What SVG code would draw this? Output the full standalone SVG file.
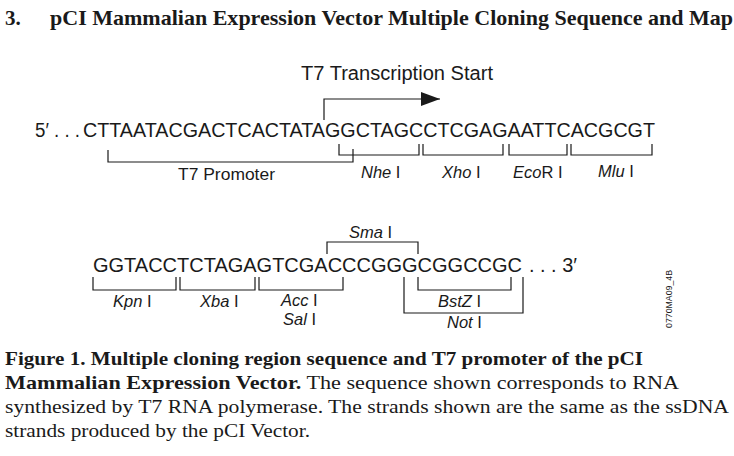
<svg xmlns="http://www.w3.org/2000/svg" width="734" height="456" viewBox="0 0 734 456">
<style>
.ser{font-family:"Liberation Serif","Times New Roman",serif;fill:#1a1a1a}
.b{font-weight:bold}
.title{font-size:21px}
.cap{font-size:19.5px}
.seq{font-family:"Liberation Sans",Arial,sans-serif;font-size:19.5px;fill:#1a1a1a}
.lbl{font-family:"Liberation Sans",Arial,sans-serif;font-size:16.5px;fill:#1a1a1a}
.it{font-style:italic}
.code{font-family:"Liberation Sans",Arial,sans-serif;font-size:9px;fill:#1a1a1a}
.br{fill:none;stroke:#1a1a1a;stroke-width:1.2}
</style>
<defs>
<marker id="ah" markerWidth="20" markerHeight="14" refX="19" refY="7" orient="auto" markerUnits="userSpaceOnUse">
<path d="M0,0 L19,7 L0,14 Z" fill="#1a1a1a"/>
</marker>
</defs>
<rect width="734" height="456" fill="#fff"/>
<g id="title">
<text class="ser b title" x="5" y="25">3.</text>
<text class="ser b title" x="50" y="25" textLength="683" lengthAdjust="spacingAndGlyphs">pCI Mammalian Expression Vector Multiple Cloning Sequence and Map</text>
</g>
<g id="connectors">
<path class="br" d="M324,120 V99 H440" marker-end="url(#ah)"/>
<path class="br" d="M108,150 V162 H353 V149"/>
<path class="br" d="M339,144 V155 H419 V144"/>
<path class="br" d="M423,144 V155 H503 V144"/>
<path class="br" d="M509,144 V155 H567 V144"/>
<path class="br" d="M571,144 V155 H652 V144"/>
<path class="br" d="M93,277 V290 H176 V277"/>
<path class="br" d="M180,277 V290 H255 V277"/>
<path class="br" d="M259,277 V290 H343 V277"/>
<path class="br" d="M327,254 V242 H418 V254"/>
<path class="br" d="M418,277 V290 H511 V277"/>
<path class="br" d="M404,277 V313 H523 V277"/>
</g>
<g id="t7-start">
<text class="seq" x="301" y="80" textLength="192" lengthAdjust="spacingAndGlyphs">T7 Transcription Start</text>
</g>
<g id="sequence-1">
<text class="seq" x="35" y="137" textLength="45" lengthAdjust="spacingAndGlyphs">5′ . . .</text>
<text class="seq" x="83" y="137" textLength="572" lengthAdjust="spacingAndGlyphs">CTTAATACGACTCACTATAGGCTAGCCTCGAGAATTCACGCGT</text>
</g>
<g id="t7-promoter"><text class="lbl" x="178" y="180" textLength="97" lengthAdjust="spacingAndGlyphs">T7 Promoter</text></g>
<g id="nhe"><text class="lbl" x="361" y="178"><tspan class="it">Nhe</tspan> I</text></g>
<g id="xho"><text class="lbl" x="442" y="178"><tspan class="it">Xho</tspan> I</text></g>
<g id="ecor"><text class="lbl" x="513" y="178"><tspan class="it">Eco</tspan>R I</text></g>
<g id="mlu"><text class="lbl" x="598" y="177"><tspan class="it">Mlu</tspan> I</text></g>
<g id="sequence-2">
<text class="seq" x="93" y="272" textLength="429" lengthAdjust="spacingAndGlyphs">GGTACCTCTAGAGTCGACCCGGGCGGCCGC</text>
<text class="seq" x="529" y="272" textLength="48" lengthAdjust="spacingAndGlyphs">. . . 3′</text>
</g>
<g id="sma"><text class="lbl" x="349" y="238"><tspan class="it">Sma</tspan> I</text></g>
<g id="kpn"><text class="lbl" x="113" y="307"><tspan class="it">Kpn</tspan> I</text></g>
<g id="xba"><text class="lbl" x="200" y="307"><tspan class="it">Xba</tspan> I</text></g>
<g id="acc-sal">
<text class="lbl" x="281" y="306"><tspan class="it">Acc</tspan> I</text>
<text class="lbl" x="283" y="325"><tspan class="it">Sal</tspan> I</text>
</g>
<g id="bstz"><text class="lbl" x="438" y="307"><tspan class="it">BstZ</tspan> I</text></g>
<g id="not"><text class="lbl" x="447" y="328"><tspan class="it">Not</tspan> I</text></g>
<g id="code"><text class="code" transform="translate(672,299) rotate(-90)" text-anchor="middle" textLength="58" lengthAdjust="spacingAndGlyphs">0770MA09_4B</text></g>
<g id="caption">
<text class="ser cap b" x="5" y="365" textLength="638" lengthAdjust="spacingAndGlyphs">Figure 1. Multiple cloning region sequence and T7 promoter of the pCI</text>
<text class="ser cap" x="5" y="389" textLength="674" lengthAdjust="spacingAndGlyphs"><tspan class="b">Mammalian Expression Vector.</tspan> The sequence shown corresponds to RNA</text>
<text class="ser cap" x="5" y="413" textLength="724" lengthAdjust="spacingAndGlyphs">synthesized by T7 RNA polymerase. The strands shown are the same as the ssDNA</text>
<text class="ser cap" x="5" y="437" textLength="305" lengthAdjust="spacingAndGlyphs">strands produced by the pCI Vector.</text>
</g>
</svg>
